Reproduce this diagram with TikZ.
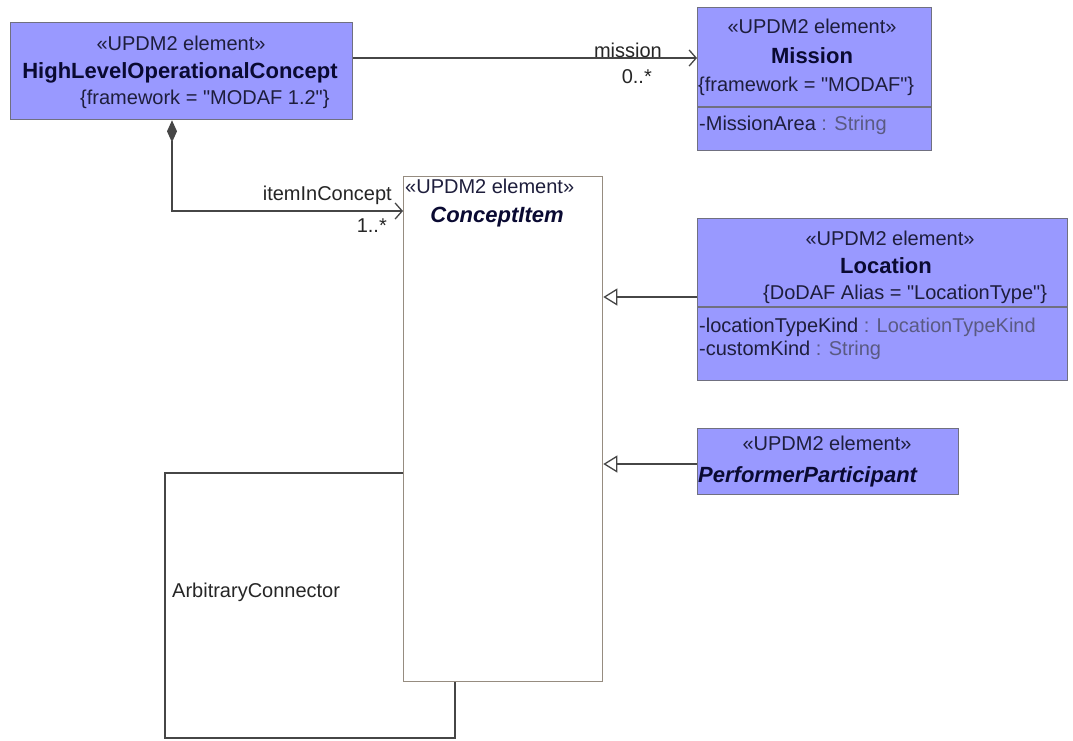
\documentclass[tikz,border=0pt]{standalone}
\usepackage{fontspec}
\setmainfont{Liberation Sans}[Ligatures=TeXOff]
\usetikzlibrary{arrows.meta}
\definecolor{boxfill}{RGB}{153,153,255}
\definecolor{boxline}{RGB}{112,112,128}
\definecolor{txt}{RGB}{30,30,60}
\definecolor{nametxt}{RGB}{10,10,50}
\definecolor{typetxt}{RGB}{90,90,130}
\definecolor{ciline}{RGB}{150,140,128}
\definecolor{conn}{RGB}{70,70,70}
\begin{document}
\begin{tikzpicture}[x=1pt,y=-1pt,
  box/.style={draw=boxline, fill=boxfill, line width=1.3pt, inner sep=0pt, anchor=north west},
  cibox/.style={draw=ciline, fill=white, line width=1.3pt, inner sep=0pt, anchor=north west},
  ster/.style={font=\fontsize{20}{22}\selectfont, text=txt, inner sep=0pt, anchor=base},
  nm/.style={font=\fontsize{22}{24}\selectfont\bfseries, text=nametxt, inner sep=0pt, anchor=base},
  nmi/.style={font=\fontsize{22}{24}\selectfont\bfseries\itshape, text=nametxt, inner sep=0pt, anchor=base},
  tag/.style={font=\fontsize{20}{22}\selectfont, text=txt, inner sep=0pt, anchor=base west},
  lbl/.style={font=\fontsize{20}{22}\selectfont, text=black!85, inner sep=0pt},
  sep/.style={draw=boxline, line width=1.3pt},
  conn/.style={draw=conn, line width=1.4pt},
  gen/.style={conn, -{Triangle[open, fill=white, length=14pt, width=17pt, line width=1.3pt]}},
  nav/.style={-{Straight Barb[length=7pt, width=16pt, line width=1.3pt]}}
]
\useasboundingbox (0,0) rectangle (1073,740);
\fill[white] (0,0) rectangle (1073,740);

% boxes
\node[box, minimum width=342pt, minimum height=97pt] (hloc) at (10,22) {};
\node[box, minimum width=234pt, minimum height=143pt] (mission) at (697,7) {};
\node[box, minimum width=370pt, minimum height=162pt] (loc) at (697,218) {};
\node[box, minimum width=261pt, minimum height=66pt] (perf) at (697,428) {};
\node[cibox, minimum width=199pt, minimum height=505pt] (ci) at (403,176) {};

% compartments
\draw[sep] ([yshift=-100pt]mission.north west) -- ([yshift=-100pt]mission.north east);
\draw[sep] ([yshift=-89pt]loc.north west) -- ([yshift=-89pt]loc.north east);

% HLOC text
\node[ster] (hs) at (181,50) {«UPDM2 element»};
\node[nm] (hn) at (180,78) {HighLevelOperationalConcept};
\node[tag] (ht) at (80,104) {\{framework = "MODAF 1.2"\}};

% Mission text
\node[ster] (ms) at (812,33) {«UPDM2 element»};
\node[nm] (mn) at (812,63) {Mission};
\node[tag] (mt) at (698,91) {\{framework = "MODAF"\}};
\node[tag] (ma) at (699,130) {-MissionArea \textcolor{typetxt}{: String}};

% ConceptItem text
\node[ster, anchor=base west] (cs) at (405,193) {«UPDM2 element»};
\node[nmi] (cn) at (497,222) {ConceptItem};

% Location text
\node[ster] (ls) at (890,245) {«UPDM2 element»};
\node[nm] (ln) at (886,273) {Location};
\node[tag] (lt) at (763,299) {\{DoDAF Alias = "LocationType"\}};
\node[tag] (la1) at (699,332) {-locationTypeKind \textcolor{typetxt}{: LocationTypeKind}};
\node[tag] (la2) at (699,355) {-customKind \textcolor{typetxt}{: String}};

% Performer text
\node[ster] (ps) at (827,450) {«UPDM2 element»};
\node[nmi, anchor=base west] (pn) at (698,482) {PerformerParticipant};

% mission association
\draw[conn, nav] ([yshift=-36pt]hloc.north east) -- ([yshift=-51pt]mission.north west);
\node[lbl, anchor=base east] (mrole) at (662,57) {mission};
\node[lbl, anchor=base east] (mmult) at (652,83) {0..*};

% composition
\draw[conn, {Diamond[length=22pt, width=10pt]}-{Straight Barb[length=7pt, width=16pt, line width=1.3pt]}]
  ([xshift=162pt]hloc.south west) |- ([yshift=-35pt]ci.north west);
\node[lbl, anchor=base east] (irole) at (392,200) {itemInConcept};
\node[lbl, anchor=base east] (imult) at (387,232) {1..*};

% generalizations
\coordinate (g1) at ([yshift=-79pt]loc.north west);
\draw[gen] (g1) -- (g1 -| ci.east);
\coordinate (g2) at ([yshift=-36pt]perf.north west);
\draw[gen] (g2) -- (g2 -| ci.east);

% arbitrary connector
\coordinate (a1) at ([yshift=-297pt]ci.north west);
\coordinate (c1) at (165,738);
\draw[conn] (a1) -| (c1) -| ([xshift=52pt]ci.south west);
\node[lbl, anchor=base west] (arb) at (172,597) {ArbitraryConnector};
\end{tikzpicture}
\end{document}
